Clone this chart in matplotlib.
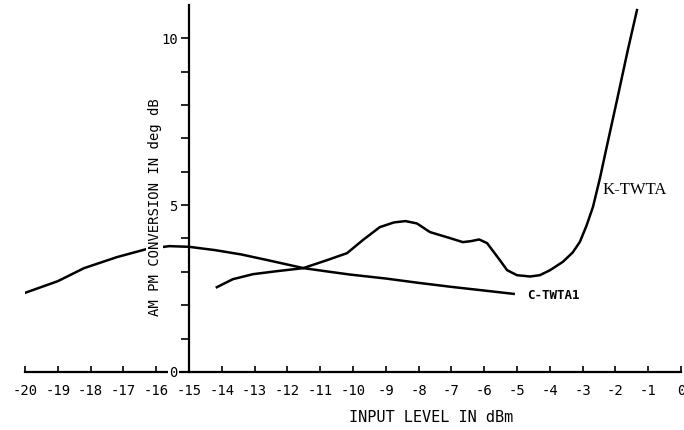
import matplotlib.pyplot as plt
import numpy as np

plt.rcParams['axes.unicode_minus'] = False
plt.rcParams['font.family'] = 'DejaVu Sans Mono'

# C-band TWTA, AM/PM conversion vs input level
c_x = [-20, -19, -18.2, -17.2, -16.3, -15.6, -15.0, -14.2, -13.4, -12.6, -11.5,
       -10.7, -10.1, -9.0, -8.0, -7.0, -6.0, -5.1]
c_y = [2.37, 2.72, 3.11, 3.44, 3.68, 3.77, 3.75, 3.65, 3.52, 3.35, 3.11,
       3.00, 2.92, 2.80, 2.67, 2.55, 2.44, 2.34]

# K-band TWTA
k_x = [-14.15, -13.66, -13.05, -12.32, -11.52, -10.79, -10.18, -9.70, -9.18, -8.75,
       -8.40, -8.05, -7.65, -7.04, -6.65, -6.40, -6.15, -5.91, -5.52, -5.30, -5.00,
       -4.60, -4.30, -3.99, -3.60, -3.30, -3.08, -2.88, -2.68, -2.47, -2.29, -1.95,
       -1.62, -1.34]
k_y = [2.54, 2.78, 2.93, 3.02, 3.11, 3.35, 3.56, 3.95, 4.34, 4.48,
       4.52, 4.45, 4.19, 4.01, 3.89, 3.92, 3.97, 3.86, 3.35, 3.05, 2.90,
       2.86, 2.90, 3.05, 3.30, 3.58, 3.90, 4.38, 4.95, 5.80, 6.62, 8.14,
       9.64, 10.84]

x_ticks = list(range(-20, 1))
y_major = [0, 5, 10]

fig = plt.figure(figsize=(6.84, 4.30), dpi=100)
ax = fig.add_axes([0.0365, 0.1349, 0.959, 0.854])

ax.plot(c_x, c_y, color='black', lw=1.8, zorder=2)
ax.plot(k_x, k_y, color='black', lw=1.8, zorder=2)

ax.set_xlim(-20, 0)
ax.set_ylim(0, 11)

ax.spines['top'].set_visible(False)
ax.spines['right'].set_visible(False)
ax.spines['left'].set_position(('data', -15))
ax.spines['left'].set_linewidth(1.6)
ax.spines['bottom'].set_linewidth(1.6)

ax.set_xticks(x_ticks)
ax.set_xticklabels([str(v) for v in x_ticks])
ax.tick_params(axis='x', direction='in', length=4, width=1.2, pad=9, labelsize=10)

ax.set_yticks(y_major)
ax.set_yticks(np.arange(0, 11), minor=True)
ax.tick_params(axis='y', which='both', direction='out', length=6, width=1.2, pad=2, labelsize=10)
ax.yaxis.set_zorder(3)
for lab in ax.get_yticklabels():
    lab.set_bbox(dict(facecolor='white', edgecolor='none', pad=1))

ax.text(-16.04, 4.94, 'AM PM CONVERSION IN deg dB', rotation=90, ha='center', va='center',
        fontsize=10, zorder=4, bbox=dict(facecolor='white', edgecolor='none', pad=1))
ax.text(-7.62, -1.35, 'INPUT LEVEL IN dBm', ha='center', va='center', fontsize=11, clip_on=False)

ax.text(-1.40, 5.45, 'K-TWTA', ha='center', va='center', fontsize=12, family='Liberation Serif')
ax.text(-3.9, 2.28, 'C-TWTA1', ha='center', va='center', fontsize=9, fontweight='bold')

fig.savefig('out.png', dpi=100)
